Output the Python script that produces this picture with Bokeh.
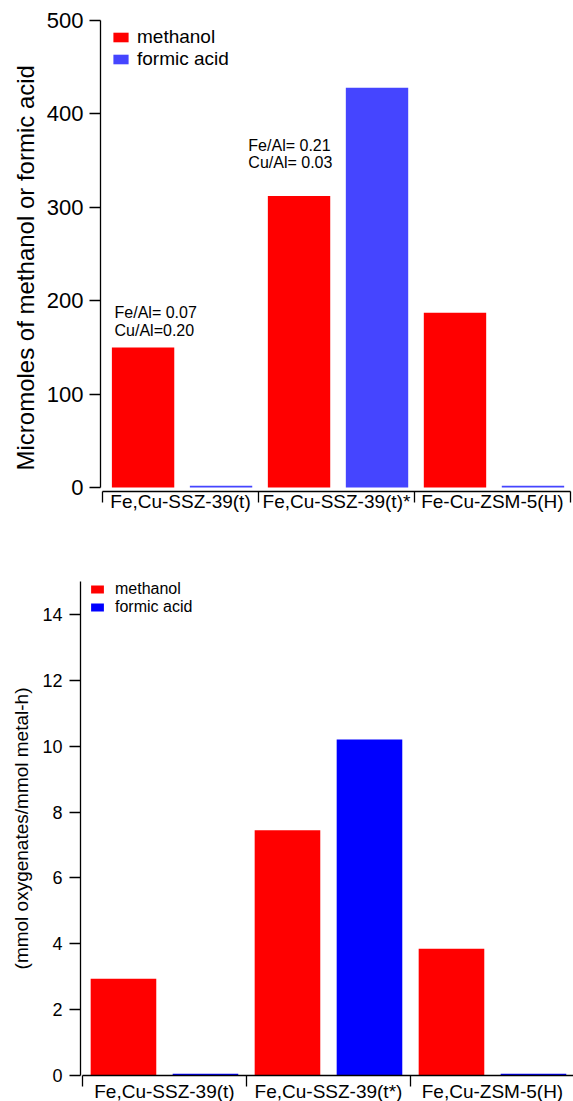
from bokeh.plotting import figure
from bokeh.models import Range1d, FixedTicker, Label, Legend, LegendItem, Title
from bokeh.embed import file_html
from bokeh.resources import INLINE

FONT = "Liberation Sans"

# ---- data: top chart ----
categories_top = ["Fe,Cu-SSZ-39(t)", "Fe,Cu-SSZ-39(t)*", "Fe-Cu-ZSM-5(H)"]
methanol_top = [150, 312, 187]
formic_top = [2, 428, 2]
yticks_top = [0, 100, 200, 300, 400, 500]
ratios_top = [("Fe/Al= 0.07", "Cu/Al=0.20"), ("Fe/Al= 0.21", "Cu/Al= 0.03")]

# ---- data: bottom chart ----
categories_bot = ["Fe,Cu-SSZ-39(t)", "Fe,Cu-SSZ-39(t*)", "Fe,Cu-ZSM-5(H)"]
methanol_bot = [2.94, 7.45, 3.85]
formic_bot = [0.05, 10.2, 0.05]
yticks_bot = [0, 2, 4, 6, 8, 10, 12, 14]

series = ["methanol", "formic acid"]


def style_axes(p, cats, yticks, ybounds, tick_font, xlab_font,
               ytick_standoff, xlab_standoff):
    p.outline_line_color = None
    p.xgrid.grid_line_color = None
    p.ygrid.grid_line_color = None
    n = len(cats)
    xa = p.xaxis[0]
    xa.ticker = FixedTicker(ticks=[i + 0.5 for i in range(n)],
                            minor_ticks=list(range(n + 1)))
    xa.bounds = (0, n)
    xa.major_label_overrides = {i + 0.5: c for i, c in enumerate(cats)}
    xa.major_tick_line_color = None
    xa.major_tick_out = 0
    xa.major_tick_in = 0
    xa.minor_tick_out = 11
    xa.minor_tick_in = 0
    xa.minor_tick_line_color = "black"
    xa.minor_tick_line_width = 1.3
    xa.axis_line_color = "black"
    xa.axis_line_width = 1.3
    xa.major_label_standoff = xlab_standoff
    xa.major_label_text_font = FONT
    xa.major_label_text_font_size = xlab_font
    xa.major_label_text_color = "black"

    ya = p.yaxis[0]
    ya.ticker = FixedTicker(ticks=yticks)
    ya.bounds = ybounds
    ya.major_tick_out = 11
    ya.major_tick_in = 0
    ya.major_tick_line_width = 1.3
    ya.minor_tick_line_color = None
    ya.axis_line_width = 1.3
    ya.major_label_standoff = ytick_standoff
    ya.major_label_text_font = FONT
    ya.major_label_text_font_size = tick_font
    ya.major_label_text_color = "black"


# ---------------- top chart ----------------
p1 = figure(frame_width=471, frame_height=471,
            x_range=Range1d(-0.013, 3.007), y_range=Range1d(-4.28, 500),
            output_backend="svg", toolbar_location=None,
            min_border_left=100, min_border_right=2, min_border_top=20,
            min_border_bottom=39)
idx = list(range(len(categories_top)))
rm1 = p1.vbar(x=[i + 0.26 for i in idx], top=methanol_top, width=0.4,
              fill_color="#ff0000", line_color=None)
rf1 = p1.vbar(x=[i + 0.76 for i in idx], top=formic_top, width=0.4,
              fill_color="#4545ff", line_color=None)
style_axes(p1, categories_top, yticks_top, (0, 500), "22px", "19px", 6, -12)
p1.add_layout(Title(text="Micromoles of methanol or formic acid", align="left",
                    offset=21, text_font=FONT, text_font_size="24px",
                    text_font_style="normal", text_color="black"), "left")
leg1 = Legend(items=[LegendItem(label=series[0], renderers=[rm1]),
                     LegendItem(label=series[1], renderers=[rf1])],
              location=(11, 421), padding=0, margin=0, spacing=-2,
              glyph_width=19, glyph_height=12, label_standoff=7,
              label_height=20, label_text_font=FONT, label_text_font_size="19px",
              label_text_color="black",
              background_fill_alpha=0, border_line_color=None)
p1.add_layout(leg1)
for (line1, line2), (xg, y1, y2) in zip(ratios_top, [(0.077, 187, 168), (0.935, 366, 348)]):
    for t, yy in ((line1, y1), (line2, y2)):
        p1.add_layout(Label(x=xg, y=yy, text=t, text_font=FONT, text_font_size="16px",
                            text_align="left", text_baseline="middle", text_color="black"))

# ---------------- bottom chart ----------------
p2 = figure(frame_width=493, frame_height=494,
            x_range=Range1d(-0.012, 2.994), y_range=Range1d(0, 15),
            output_backend="svg", toolbar_location=None,
            min_border_left=80, min_border_right=0, min_border_top=51,
            min_border_bottom=26)
idx = list(range(len(categories_bot)))
rm2 = p2.vbar(x=[i + 0.25 for i in idx], top=methanol_bot, width=0.4,
              fill_color="#ff0000", line_color=None)
rf2 = p2.vbar(x=[i + 0.75 for i in idx], top=formic_bot, width=0.4,
              fill_color="#0000ff", line_color=None)
style_axes(p2, categories_bot, yticks_bot, (0, 15), "18px", "19px", 7, -6)
ya2 = p2.yaxis[0]
ya2.axis_label = "(mmol oxygenates/mmol metal-h)"
ya2.axis_label_text_font = FONT
ya2.axis_label_text_font_size = "19px"
ya2.axis_label_text_font_style = "normal"
ya2.axis_label_text_color = "black"
ya2.axis_label_standoff = 7
leg2 = Legend(items=[LegendItem(label=series[0], renderers=[rm2]),
                     LegendItem(label=series[1], renderers=[rf2])],
              location=(9, 459), padding=0, margin=0, spacing=-2,
              glyph_width=16, glyph_height=10, label_standoff=10,
              label_height=17, label_text_font=FONT, label_text_font_size="16px",
              label_text_color="black",
              background_fill_alpha=0, border_line_color=None)
p2.add_layout(leg2)

open("out.html", "w").write(file_html([p1, p2], INLINE))
